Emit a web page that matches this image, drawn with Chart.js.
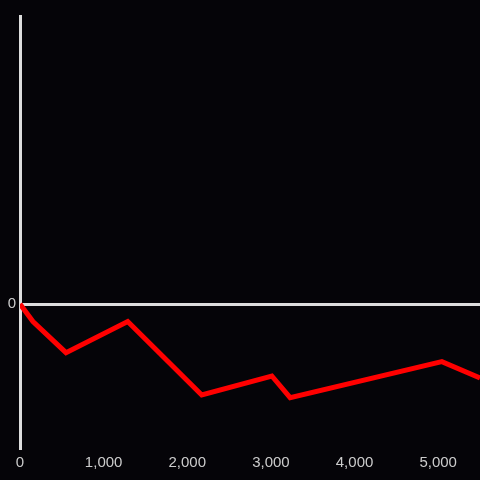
<!DOCTYPE html>
<html>
<head>
<meta charset="utf-8">
<script src="https://cdn.jsdelivr.net/npm/chart.js@4/dist/chart.umd.min.js"></script>
<style>
  html, body { margin: 0; padding: 0; background: #050408; }
  #wrap { width: 480px; height: 480px; }
</style>
</head>
<body>
<div id="wrap"><canvas id="c" width="480" height="480"></canvas></div>
<script>
const xValues = [0, 155, 550, 1288, 2173, 3011, 3230, 5044, 5500];
const yValues = [0, -6.1, -16.9, -6.1, -31.6, -25, -32.5, -20, -25.7];
const xTicks = [0, 1000, 2000, 3000, 4000, 5000];
const yTicks = [0];

const points = xValues.map((x, i) => ({ x: x, y: yValues[i] }));

const bgPlugin = {
  id: 'bg',
  beforeDraw(chart) {
    const ctx = chart.ctx;
    ctx.save();
    ctx.fillStyle = '#050408';
    ctx.fillRect(0, 0, chart.width, chart.height);
    ctx.restore();
  }
};

new Chart(document.getElementById('c'), {
  type: 'line',
  data: {
    datasets: [{
      data: points,
      borderColor: '#ff0000',
      borderWidth: 5,
      pointRadius: 0,
      tension: 0,
      fill: false
    }]
  },
  options: {
    responsive: false,
    animation: false,
    devicePixelRatio: 1,
    layout: { padding: { top: 16, right: 0, bottom: 0, left: 0 } },
    plugins: { legend: { display: false }, tooltip: { enabled: false } },
    scales: {
      x: {
        type: 'linear',
        min: 0,
        max: 5500,
        afterBuildTicks(scale) { scale.ticks = xTicks.map(v => ({ value: v })); },
        afterFit(scale) { scale.height = 32; },
        grid: { display: false },
        border: { display: false },
        ticks: {
          color: '#cccccc',
          font: { size: 15 },
          padding: -2,
          maxRotation: 0,
          autoSkip: false,
          callback: v => v.toLocaleString('en-US')
        }
      },
      y: {
        type: 'linear',
        min: -50,
        max: 100,
        afterBuildTicks(scale) { scale.ticks = yTicks.map(v => ({ value: v })); },
        afterFit(scale) { scale.width = 20; },
        grid: { display: true, color: '#dddddd', lineWidth: 3, drawTicks: false },
        border: { display: true, color: '#dddddd', width: 3 },
        ticks: {
          color: '#cccccc',
          font: { size: 15 },
          padding: 4,
          callback: v => v.toLocaleString('en-US')
        }
      }
    }
  },
  plugins: [bgPlugin]
});
</script>
</body>
</html>
